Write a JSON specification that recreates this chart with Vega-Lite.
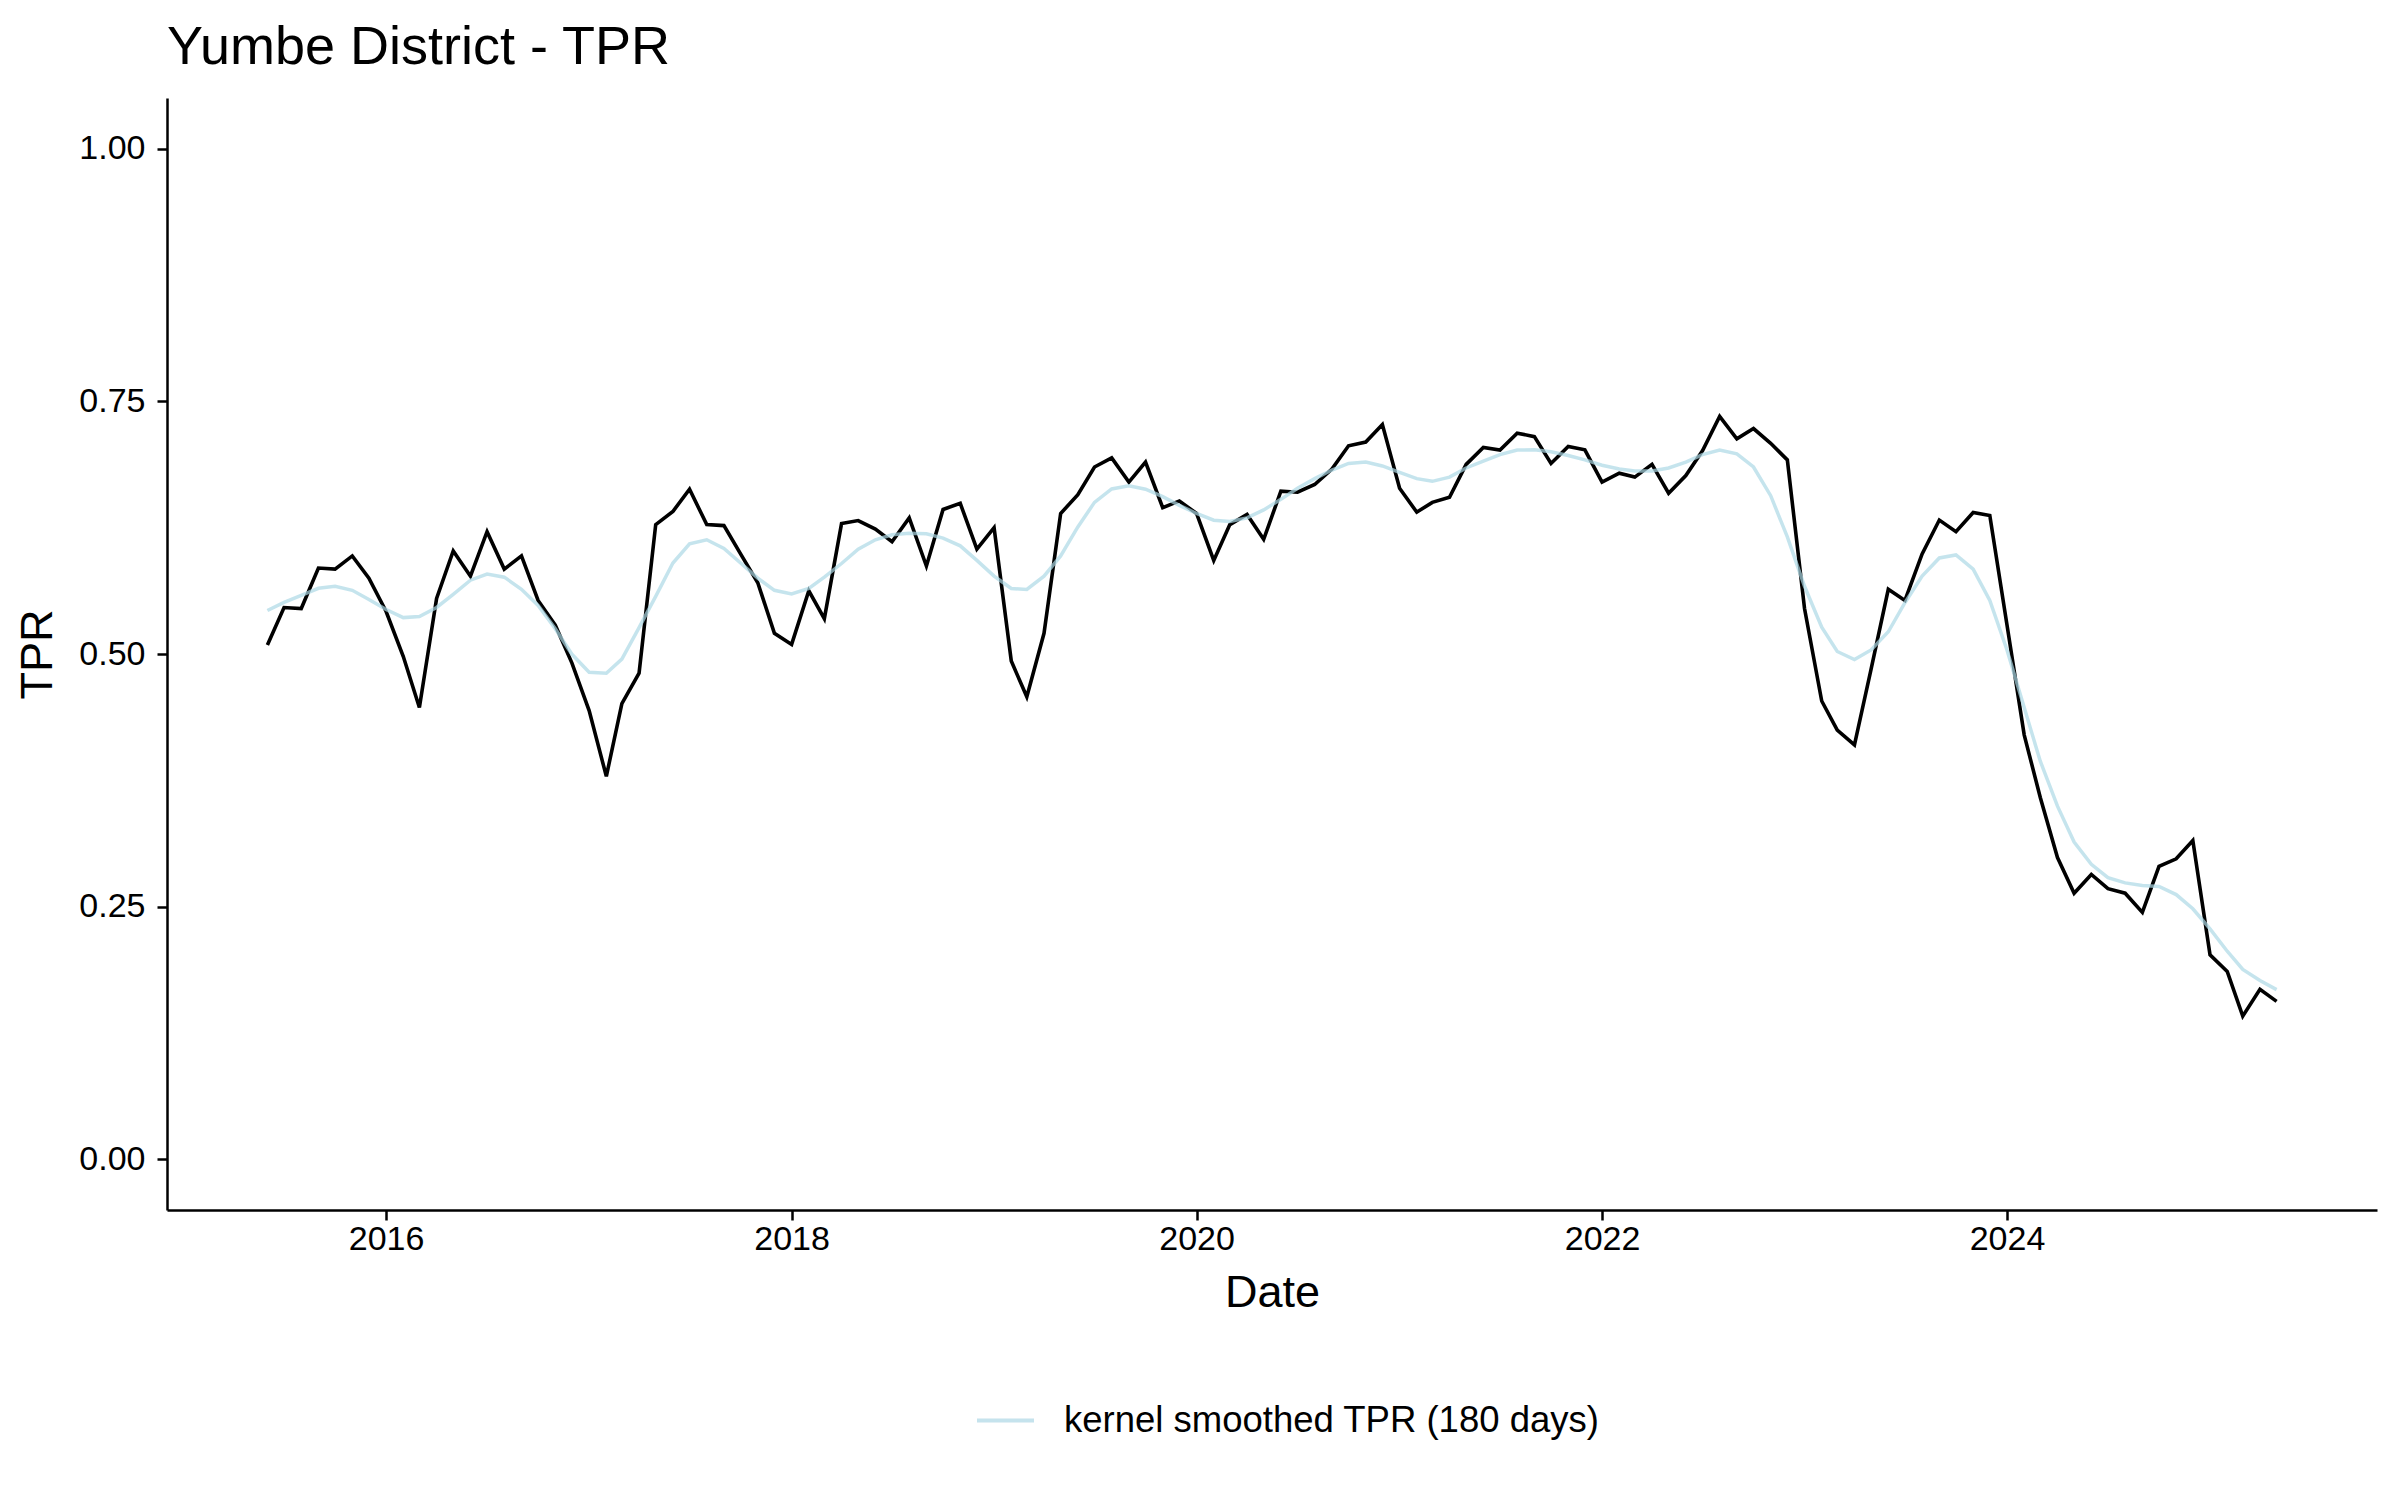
{
  "$schema": "https://vega.github.io/schema/vega-lite/v6.json",
  "width": 2210,
  "height": 1112,
  "autosize": {"type": "none"},
  "padding": {"left": 167, "top": 98, "right": 23, "bottom": 290},
  "background": "white",
  "config": {
    "view": {"stroke": null},
    "font": "Liberation Sans",
    "axis": {
      "grid": false,
      "domainColor": "black",
      "domainWidth": 2.5,
      "tickColor": "black",
      "tickWidth": 2.5,
      "tickSize": 10,
      "labelFontSize": 34,
      "labelColor": "black",
      "labelFont": "Liberation Sans",
      "titleFont": "Liberation Sans",
      "titleFontSize": 45,
      "titleFontWeight": "normal",
      "titleColor": "black"
    }
  },
  "title": {
    "text": "Yumbe District - TPR",
    "anchor": "start",
    "frame": "group",
    "fontSize": 54,
    "fontWeight": "normal",
    "font": "Liberation Sans",
    "color": "black",
    "offset": 23
  },
  "data": {
    "values": [
      {"date": "2015-06-01", "tpr": 0.509, "smooth": 0.543},
      {"date": "2015-07-01", "tpr": 0.546, "smooth": 0.551},
      {"date": "2015-08-01", "tpr": 0.545, "smooth": 0.558},
      {"date": "2015-09-01", "tpr": 0.585, "smooth": 0.565},
      {"date": "2015-10-01", "tpr": 0.584, "smooth": 0.567},
      {"date": "2015-11-01", "tpr": 0.597, "smooth": 0.563},
      {"date": "2015-12-01", "tpr": 0.575, "smooth": 0.554},
      {"date": "2016-01-01", "tpr": 0.542, "smooth": 0.544},
      {"date": "2016-02-01", "tpr": 0.4975, "smooth": 0.536},
      {"date": "2016-03-01", "tpr": 0.447, "smooth": 0.537},
      {"date": "2016-04-01", "tpr": 0.555, "smooth": 0.546},
      {"date": "2016-05-01", "tpr": 0.602, "smooth": 0.559},
      {"date": "2016-06-01", "tpr": 0.577, "smooth": 0.573},
      {"date": "2016-07-01", "tpr": 0.621, "smooth": 0.579},
      {"date": "2016-08-01", "tpr": 0.584, "smooth": 0.576},
      {"date": "2016-09-01", "tpr": 0.597, "smooth": 0.564},
      {"date": "2016-10-01", "tpr": 0.553, "smooth": 0.548},
      {"date": "2016-11-01", "tpr": 0.5285, "smooth": 0.525},
      {"date": "2016-12-01", "tpr": 0.491, "smooth": 0.4997},
      {"date": "2017-01-01", "tpr": 0.444, "smooth": 0.482},
      {"date": "2017-02-01", "tpr": 0.379, "smooth": 0.481},
      {"date": "2017-03-01", "tpr": 0.451, "smooth": 0.495},
      {"date": "2017-04-01", "tpr": 0.481, "smooth": 0.526},
      {"date": "2017-05-01", "tpr": 0.628, "smooth": 0.557},
      {"date": "2017-06-01", "tpr": 0.641, "smooth": 0.59},
      {"date": "2017-07-01", "tpr": 0.663, "smooth": 0.609},
      {"date": "2017-08-01", "tpr": 0.628, "smooth": 0.613},
      {"date": "2017-09-01", "tpr": 0.627, "smooth": 0.6045},
      {"date": "2017-10-01", "tpr": 0.599, "smooth": 0.59},
      {"date": "2017-11-01", "tpr": 0.5705, "smooth": 0.575},
      {"date": "2017-12-01", "tpr": 0.5205, "smooth": 0.563},
      {"date": "2018-01-01", "tpr": 0.5095, "smooth": 0.5594},
      {"date": "2018-02-01", "tpr": 0.5625, "smooth": 0.5648},
      {"date": "2018-03-01", "tpr": 0.535, "smooth": 0.576},
      {"date": "2018-04-01", "tpr": 0.629, "smooth": 0.5895},
      {"date": "2018-05-01", "tpr": 0.632, "smooth": 0.6037},
      {"date": "2018-06-01", "tpr": 0.6235, "smooth": 0.613},
      {"date": "2018-07-01", "tpr": 0.611, "smooth": 0.618},
      {"date": "2018-08-01", "tpr": 0.6346, "smooth": 0.6195},
      {"date": "2018-09-01", "tpr": 0.587, "smooth": 0.619},
      {"date": "2018-10-01", "tpr": 0.643, "smooth": 0.6147},
      {"date": "2018-11-01", "tpr": 0.649, "smooth": 0.607},
      {"date": "2018-12-01", "tpr": 0.6037, "smooth": 0.5926},
      {"date": "2019-01-01", "tpr": 0.6249, "smooth": 0.577},
      {"date": "2019-02-01", "tpr": 0.493, "smooth": 0.5648},
      {"date": "2019-03-01", "tpr": 0.4577, "smooth": 0.5639},
      {"date": "2019-04-01", "tpr": 0.5205, "smooth": 0.577},
      {"date": "2019-05-01", "tpr": 0.639, "smooth": 0.597},
      {"date": "2019-06-01", "tpr": 0.6575, "smooth": 0.6257},
      {"date": "2019-07-01", "tpr": 0.685, "smooth": 0.65},
      {"date": "2019-08-01", "tpr": 0.694, "smooth": 0.6633},
      {"date": "2019-09-01", "tpr": 0.67, "smooth": 0.6663},
      {"date": "2019-10-01", "tpr": 0.6898, "smooth": 0.663},
      {"date": "2019-11-01", "tpr": 0.6447, "smooth": 0.6557},
      {"date": "2019-12-01", "tpr": 0.6514, "smooth": 0.647},
      {"date": "2020-01-01", "tpr": 0.639, "smooth": 0.639},
      {"date": "2020-02-01", "tpr": 0.5926, "smooth": 0.6324},
      {"date": "2020-03-01", "tpr": 0.628, "smooth": 0.631},
      {"date": "2020-04-01", "tpr": 0.638, "smooth": 0.6346},
      {"date": "2020-05-01", "tpr": 0.6134, "smooth": 0.6425},
      {"date": "2020-06-01", "tpr": 0.661, "smooth": 0.653},
      {"date": "2020-07-01", "tpr": 0.66, "smooth": 0.664},
      {"date": "2020-08-01", "tpr": 0.6677, "smooth": 0.6735},
      {"date": "2020-09-01", "tpr": 0.683, "smooth": 0.682},
      {"date": "2020-10-01", "tpr": 0.706, "smooth": 0.6885},
      {"date": "2020-11-01", "tpr": 0.7097, "smooth": 0.6898},
      {"date": "2020-12-01", "tpr": 0.727, "smooth": 0.686},
      {"date": "2021-01-01", "tpr": 0.664, "smooth": 0.6796},
      {"date": "2021-02-01", "tpr": 0.6403, "smooth": 0.6735},
      {"date": "2021-03-01", "tpr": 0.65, "smooth": 0.6708},
      {"date": "2021-04-01", "tpr": 0.655, "smooth": 0.675},
      {"date": "2021-05-01", "tpr": 0.6876, "smooth": 0.684},
      {"date": "2021-06-01", "tpr": 0.7044, "smooth": 0.6907},
      {"date": "2021-07-01", "tpr": 0.7018, "smooth": 0.6973},
      {"date": "2021-08-01", "tpr": 0.7185, "smooth": 0.7018},
      {"date": "2021-09-01", "tpr": 0.715, "smooth": 0.702},
      {"date": "2021-10-01", "tpr": 0.6885, "smooth": 0.7},
      {"date": "2021-11-01", "tpr": 0.7053, "smooth": 0.6964},
      {"date": "2021-12-01", "tpr": 0.702, "smooth": 0.692},
      {"date": "2022-01-01", "tpr": 0.67, "smooth": 0.6867},
      {"date": "2022-02-01", "tpr": 0.6788, "smooth": 0.683},
      {"date": "2022-03-01", "tpr": 0.675, "smooth": 0.681},
      {"date": "2022-04-01", "tpr": 0.6876, "smooth": 0.681},
      {"date": "2022-05-01", "tpr": 0.659, "smooth": 0.684},
      {"date": "2022-06-01", "tpr": 0.6765, "smooth": 0.6898},
      {"date": "2022-07-01", "tpr": 0.701, "smooth": 0.6973},
      {"date": "2022-08-01", "tpr": 0.735, "smooth": 0.7018},
      {"date": "2022-09-01", "tpr": 0.7128, "smooth": 0.698},
      {"date": "2022-10-01", "tpr": 0.723, "smooth": 0.685},
      {"date": "2022-11-01", "tpr": 0.7084, "smooth": 0.6566},
      {"date": "2022-12-01", "tpr": 0.692, "smooth": 0.6158},
      {"date": "2023-01-01", "tpr": 0.545, "smooth": 0.567},
      {"date": "2023-02-01", "tpr": 0.4535, "smooth": 0.5265},
      {"date": "2023-03-01", "tpr": 0.4247, "smooth": 0.5025},
      {"date": "2023-04-01", "tpr": 0.41, "smooth": 0.4945},
      {"date": "2023-05-01", "tpr": 0.485, "smooth": 0.504},
      {"date": "2023-06-01", "tpr": 0.564, "smooth": 0.522},
      {"date": "2023-07-01", "tpr": 0.553, "smooth": 0.5507},
      {"date": "2023-08-01", "tpr": 0.599, "smooth": 0.577},
      {"date": "2023-09-01", "tpr": 0.6325, "smooth": 0.595},
      {"date": "2023-10-01", "tpr": 0.621, "smooth": 0.598},
      {"date": "2023-11-01", "tpr": 0.64, "smooth": 0.584},
      {"date": "2023-12-01", "tpr": 0.637, "smooth": 0.553},
      {"date": "2024-01-01", "tpr": 0.5286, "smooth": 0.504},
      {"date": "2024-02-01", "tpr": 0.42, "smooth": 0.447},
      {"date": "2024-03-01", "tpr": 0.358, "smooth": 0.394},
      {"date": "2024-04-01", "tpr": 0.2987, "smooth": 0.3495},
      {"date": "2024-05-01", "tpr": 0.2634, "smooth": 0.314},
      {"date": "2024-06-01", "tpr": 0.2819, "smooth": 0.292},
      {"date": "2024-07-01", "tpr": 0.2678, "smooth": 0.2788},
      {"date": "2024-08-01", "tpr": 0.2634, "smooth": 0.2736},
      {"date": "2024-09-01", "tpr": 0.2444, "smooth": 0.2709},
      {"date": "2024-10-01", "tpr": 0.2899, "smooth": 0.27},
      {"date": "2024-11-01", "tpr": 0.2974, "smooth": 0.262},
      {"date": "2024-12-01", "tpr": 0.3155, "smooth": 0.248},
      {"date": "2025-01-01", "tpr": 0.2024, "smooth": 0.228},
      {"date": "2025-02-01", "tpr": 0.186, "smooth": 0.206},
      {"date": "2025-03-01", "tpr": 0.1418, "smooth": 0.188},
      {"date": "2025-04-01", "tpr": 0.1683, "smooth": 0.177},
      {"date": "2025-05-01", "tpr": 0.1564, "smooth": 0.168}
    ]
  },
  "encoding": {
    "x": {
      "field": "date",
      "type": "temporal",
      "scale": {"domain": [{"year": 2014, "month": 12, "date": 2}, {"year": 2025, "month": 10, "date": 29}], "nice": false},
      "axis": {
        "title": "Date",
        "format": "%Y",
        "values": [
          {"year": 2016, "month": 1, "date": 1},
          {"year": 2018, "month": 1, "date": 1},
          {"year": 2020, "month": 1, "date": 1},
          {"year": 2022, "month": 1, "date": 1},
          {"year": 2024, "month": 1, "date": 1}
        ],
        "labelPadding": 2,
        "titlePadding": 14,
        "labelFlush": false,
        "labelOverlap": false
      }
    }
  },
  "layer": [
    {
      "mark": {"type": "line", "color": "black", "strokeWidth": 3.6},
      "encoding": {
        "y": {
          "field": "tpr",
          "type": "quantitative",
          "scale": {"domain": [-0.05, 1.05], "nice": false, "zero": false},
          "axis": {
            "title": "TPR",
            "values": [0, 0.25, 0.5, 0.75, 1],
            "format": ".2f",
            "labelPadding": 12,
            "titlePadding": 18,
            "labelFlush": false,
            "labelOverlap": false
          }
        }
      }
    },
    {
      "mark": {"type": "line", "strokeWidth": 3.5, "opacity": 0.7},
      "encoding": {
        "y": {"field": "smooth", "type": "quantitative"},
        "color": {
          "datum": "kernel smoothed TPR (180 days)",
          "scale": {"range": ["#ADD8E6"]},
          "legend": {
            "title": null,
            "orient": "none",
            "legendX": 808,
            "legendY": 1292,
            "symbolType": "stroke",
            "symbolSize": 3249,
            "symbolStrokeWidth": 4,
            "symbolOpacity": 0.7,
            "labelFontSize": 36.5,
            "labelColor": "black",
            "labelFont": "Liberation Sans",
            "labelOffset": 28,
            "labelLimit": 1000
          }
        }
      }
    }
  ]
}
